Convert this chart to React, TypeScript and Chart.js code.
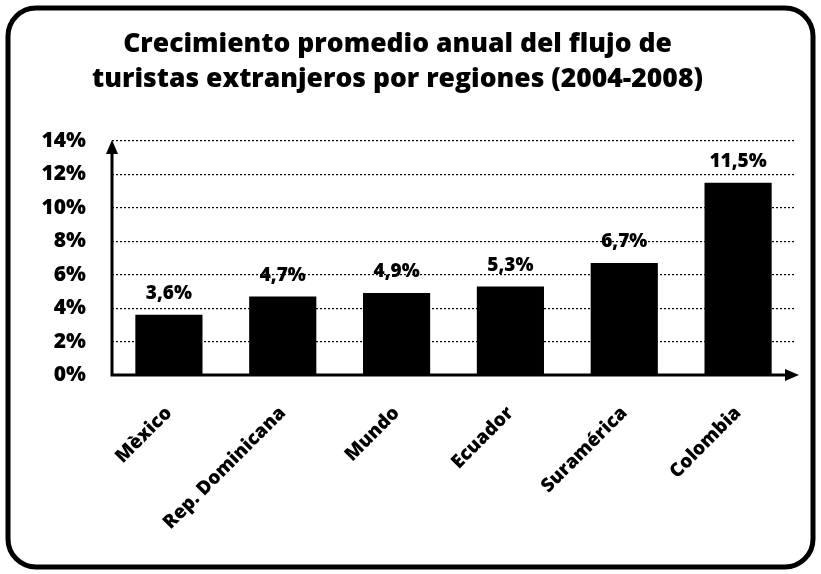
import React, { useEffect, useRef } from "react";
import { Chart, registerables } from "chart.js";

Chart.register(...registerables);

const categories = ["Mèxico", "Rep. Dominicana", "Mundo", "Ecuador", "Suramérica", "Colombia"];
const growth = [3.6, 4.7, 4.9, 5.3, 6.7, 11.5];
const titleLines = ["Crecimiento promedio anual del flujo de", "turistas extranjeros por regiones (2004-2008)"];
const yMax = 14;
const yStep = 2;

const FONT = "'Open Sans', Lato, sans-serif";
const W = "800";

const fmt = (v: number) => v.toFixed(1).replace(".", ",") + "%";

const decorPlugin = {
  id: "decor",
  beforeDraw(chart: any) {
    const { ctx, width, height } = chart;
    ctx.save();
    ctx.fillStyle = "#fff";
    ctx.fillRect(0, 0, width, height);
    ctx.restore();
  },
  afterDatasetsDraw(chart: any) {
    const { ctx, chartArea } = chart;
    const meta = chart.getDatasetMeta(0);
    ctx.save();
    ctx.fillStyle = "#000";
    ctx.font = `${W} 19px ${FONT}`;
    ctx.textAlign = "center";
    ctx.textBaseline = "middle";
    meta.data.forEach((bar: any, i: number) => {
      ctx.fillText(fmt(growth[i]), bar.x, bar.y - 21);
    });
    const { left, right, top, bottom } = chartArea;
    ctx.strokeStyle = "#000";
    ctx.lineWidth = 3;
    ctx.beginPath();
    ctx.moveTo(left, top + 8);
    ctx.lineTo(left, bottom);
    ctx.lineTo(right - 2, bottom);
    ctx.stroke();
    ctx.beginPath();
    ctx.moveTo(left, top - 1);
    ctx.lineTo(left - 6, top + 13);
    ctx.lineTo(left + 6, top + 13);
    ctx.closePath();
    ctx.fill();
    ctx.beginPath();
    ctx.moveTo(right + 4, bottom);
    ctx.lineTo(right - 10, bottom - 6);
    ctx.lineTo(right - 10, bottom + 6);
    ctx.closePath();
    ctx.fill();
    ctx.restore();
  },
  afterDraw(chart: any) {
    const { ctx, width, height } = chart;
    ctx.save();
    ctx.strokeStyle = "#000";
    ctx.lineWidth = 5;
    ctx.beginPath();
    (ctx as any).roundRect(8, 8, width - 16, height - 15, 28);
    ctx.stroke();
    ctx.restore();
  },
};

export default function App() {
  const ref = useRef<HTMLCanvasElement>(null);
  useEffect(() => {
    if (!ref.current) return;
    const chart = new Chart(ref.current, {
      type: "bar",
      data: {
        labels: categories,
        datasets: [
          {
            data: growth,
            backgroundColor: "#000",
            borderWidth: 0,
            barPercentage: 0.59,
            categoryPercentage: 1,
          },
        ],
      },
      options: {
        animation: false,
        responsive: true,
        maintainAspectRatio: false,
        layout: { padding: { left: 0, right: 26, top: 0, bottom: 0 } },
        plugins: {
          legend: { display: false },
          tooltip: { enabled: false },
          title: {
            display: true,
            text: titleLines,
            color: "#000",
            font: { family: FONT, size: 26.5, weight: W, lineHeight: 1.32 },
            padding: { top: 27, bottom: 44 },
          },
        },
        scales: {
          x: {
            grid: { display: false, drawTicks: false },
            border: { display: false },
            ticks: {
              color: "#000",
              font: { family: FONT, size: 19, weight: W },
              maxRotation: 45,
              minRotation: 45,
              autoSkip: false,
              padding: 27,
            },
            afterFit: (s: any) => {
              s.height = 199;
            },
          },
          y: {
            min: 0,
            max: yMax,
            grid: {
              color: (c: any) => (c.tick && c.tick.value === 0 ? "rgba(0,0,0,0)" : "#000"),
              lineWidth: 1.2,
              drawTicks: false,
            },
            border: { display: false, dash: [2, 2] },
            ticks: {
              stepSize: yStep,
              color: "#000",
              font: { family: FONT, size: 21, weight: W },
              padding: 26,
              callback: (v: any) => v + "%",
            },
            afterFit: (s: any) => {
              s.width = 112;
            },
          },
        },
      },
      plugins: [decorPlugin],
    });
    return () => chart.destroy();
  }, []);
  return (
    <div style={{ position: "fixed", left: 0, top: 0, width: 821, height: 574, background: "#fff" }}>
      <canvas ref={ref} />
    </div>
  );
}
